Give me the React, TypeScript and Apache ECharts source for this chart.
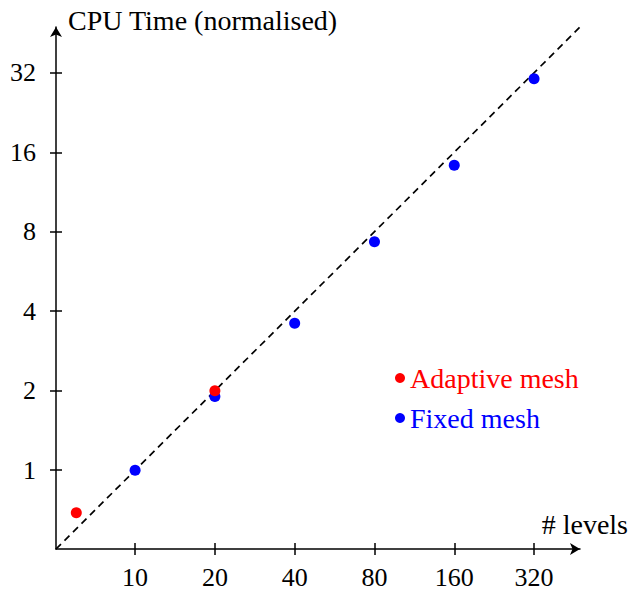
import React, { useEffect, useRef } from 'react';
import * as echarts from 'echarts';

// Tick labels
const xTickValues = [10, 20, 40, 80, 160, 320];
const yTickValues = [1, 2, 4, 8, 16, 32];

// Series data (original units)
const adaptiveX = [6, 20];
const adaptiveY = [0.69, 2.0];
const fixedX = [10, 20, 40, 80, 160, 320];
const fixedY = [1, 1.9, 3.6, 7.33, 14.3, 30.4];

// Reference line y = x / 10
const refLineX = [5.03, 477];
const refLineY = [0.503, 47.7];

// Axis extents (original units)
const xExtent = [5.03, 477];
const yExtent = [0.503, 47.7];

const X_REF = 10;
const tx = (v: number) => Math.log2(v / X_REF);
const ty = (v: number) => Math.log2(v);

const FONT = 'Liberation Serif, Times New Roman, serif';
const FS = 26;
const FS_TEXT = 28;

export default function App() {
  const ref = useRef<HTMLDivElement>(null);

  useEffect(() => {
    if (!ref.current) return;
    const chart = echarts.init(ref.current, undefined, { renderer: 'svg' });

    const xCustom = xTickValues.map(tx);
    const yCustom = yTickValues.map(ty);
    const xFmt = (v: number) => {
      const i = xTickValues.findIndex((t) => Math.abs(tx(t) - v) < 1e-6);
      return i >= 0 ? String(xTickValues[i]) : '';
    };
    const yFmt = (v: number) => {
      const i = yTickValues.findIndex((t) => Math.abs(ty(t) - v) < 1e-6);
      return i >= 0 ? String(yTickValues[i]) : '';
    };

    const lineStyle = { color: '#000', width: 1.5 };
    const xMin = tx(xExtent[0]);
    const xMax = tx(xExtent[1]);
    const yMin = ty(yExtent[0]);
    const yMax = ty(yExtent[1]);

    const option: any = {
      animation: false,
      grid: { left: 56, right: 52, top: 27, bottom: 40, containLabel: false },
      legend: {
        orient: 'vertical',
        left: 395,
        top: 364,
        padding: 0,
        itemGap: 12,
        itemWidth: 10,
        itemHeight: 10,
        icon: 'circle',
        selectedMode: false,
        textStyle: { fontFamily: FONT, fontSize: FS_TEXT },
        data: [
          { name: 'Adaptive mesh', textStyle: { color: '#ff0000' } },
          { name: 'Fixed mesh', textStyle: { color: '#0000ff' } },
        ],
      },
      xAxis: [
        {
          type: 'value',
          min: xMin,
          max: xMax,
          name: '# levels',
          nameLocation: 'end',
          nameGap: 48,
          nameTextStyle: {
            fontFamily: FONT,
            fontSize: FS_TEXT,
            color: '#000',
            align: 'right',
            verticalAlign: 'bottom',
            padding: [0, 0, 11, 0],
          },
          axisLine: {
            show: true,
            onZero: false,
            lineStyle,
            symbol: ['none', 'arrow'],
            symbolSize: [9, 10],
          },
          axisTick: { show: true, inside: false, length: 6, lineStyle, customValues: xCustom },
          axisLabel: {
            show: true,
            margin: 15,
            fontFamily: FONT,
            fontSize: FS,
            color: '#000',
            customValues: xCustom,
            formatter: xFmt,
          },
          splitLine: { show: false },
        },
        {
          type: 'value',
          min: xMin,
          max: xMax,
          position: 'bottom',
          axisLine: { show: false, onZero: false },
          axisTick: { show: true, inside: true, length: 6, lineStyle, customValues: xCustom },
          axisLabel: { show: false },
          splitLine: { show: false },
        },
      ],
      yAxis: [
        {
          type: 'value',
          min: yMin,
          max: yMax,
          name: 'CPU Time (normalised)',
          nameLocation: 'end',
          nameGap: 7,
          nameTextStyle: {
            fontFamily: FONT,
            fontSize: FS_TEXT,
            color: '#000',
            align: 'left',
            verticalAlign: 'middle',
            padding: [0, 0, 0, 12],
          },
          axisLine: {
            show: true,
            onZero: false,
            lineStyle,
            symbol: ['none', 'arrow'],
            symbolSize: [9, 10],
          },
          axisTick: { show: true, inside: false, length: 6, lineStyle, customValues: yCustom },
          axisLabel: {
            show: true,
            margin: 20,
            fontFamily: FONT,
            fontSize: FS,
            color: '#000',
            customValues: yCustom,
            formatter: yFmt,
          },
          splitLine: { show: false },
        },
        {
          type: 'value',
          min: yMin,
          max: yMax,
          position: 'left',
          axisLine: { show: false, onZero: false },
          axisTick: { show: true, inside: true, length: 6, lineStyle, customValues: yCustom },
          axisLabel: { show: false },
          splitLine: { show: false },
        },
      ],
      series: [
        {
          name: 'reference',
          type: 'line',
          xAxisIndex: 0,
          yAxisIndex: 0,
          data: refLineX.map((x, i) => [tx(x), ty(refLineY[i])]),
          showSymbol: false,
          symbol: 'none',
          silent: true,
          clip: false,
          lineStyle: { color: '#000', width: 1.7, type: [7, 5] },
          z: 1,
        },
        {
          name: 'Fixed mesh',
          type: 'scatter',
          xAxisIndex: 0,
          yAxisIndex: 0,
          data: fixedX.map((x, i) => [tx(x), ty(fixedY[i])]),
          symbol: 'circle',
          symbolSize: 11,
          itemStyle: { color: '#0000ff', opacity: 1 },
          z: 2,
        },
        {
          name: 'Adaptive mesh',
          type: 'scatter',
          xAxisIndex: 0,
          yAxisIndex: 0,
          data: adaptiveX.map((x, i) => [tx(x), ty(adaptiveY[i])]),
          symbol: 'circle',
          symbolSize: 11,
          itemStyle: { color: '#ff0000', opacity: 1 },
          z: 3,
        },
      ],
    };

    chart.setOption(option);
    return () => chart.dispose();
  }, []);

  return (
    <div
      ref={ref}
      style={{ position: 'absolute', left: 0, top: 0, width: 632, height: 590, background: '#fff' }}
    />
  );
}
